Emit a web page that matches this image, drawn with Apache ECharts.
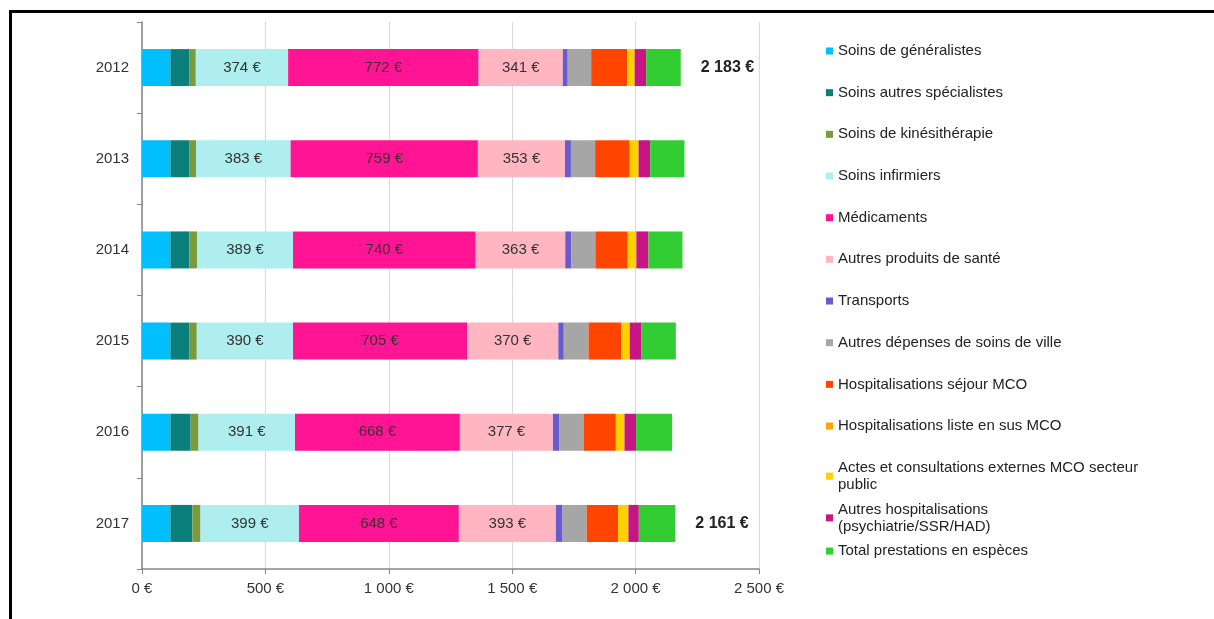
<!DOCTYPE html>
<html>
<head>
<meta charset="utf-8">
<script src="https://cdn.jsdelivr.net/npm/echarts@6/dist/echarts.min.js"></script>
<style>
  html, body { margin: 0; padding: 0; background: #fff; }
  #main { width: 1214px; height: 619px; }
  .cadre { position: absolute; left: 9px; top: 10px; right: 0; bottom: 0;
           border-left: 3px solid #000; border-top: 3px solid #000; pointer-events: none; }
</style>
</head>
<body>
<div id="main"></div>
<div class="cadre"></div>
<script>
// années (de haut en bas)
var annees = ['2012', '2013', '2014', '2015', '2016', '2017'];

// postes de dépense (ordre d'empilement)
var postes = [
  'Soins de généralistes',
  'Soins autres spécialistes',
  'Soins de kinésithérapie',
  'Soins infirmiers',
  'Médicaments',
  'Autres produits de santé',
  'Transports',
  'Autres dépenses de soins de ville',
  'Hospitalisations séjour MCO',
  'Hospitalisations liste en sus MCO',
  'Actes et consultations externes MCO secteur public',
  'Autres hospitalisations (psychiatrie/SSR/HAD)',
  'Total prestations en espèces'
];
var libellesLegende = [
  'Soins de généralistes',
  'Soins autres spécialistes',
  'Soins de kinésithérapie',
  'Soins infirmiers',
  'Médicaments',
  'Autres produits de santé',
  'Transports',
  'Autres dépenses de soins de ville',
  'Hospitalisations séjour MCO',
  'Hospitalisations liste en sus MCO',
  'Actes et consultations externes MCO secteur\npublic',
  'Autres hospitalisations\n(psychiatrie/SSR/HAD)',
  'Total prestations en espèces'
];
var couleurs = ['#00BFFF', '#0B7F7C', '#7A9A3E', '#AFEEEE', '#FF1493', '#FFB6C1',
  '#6A5ACD', '#A6A6A6', '#FF4500', '#FFA500', '#FFD000', '#C71585', '#32CD32'];

// montants en euros par poste, 2012 -> 2017
var generalistes   = [115, 115, 115, 115, 115, 115];
var specialistes   = [76, 76, 77, 76, 82, 89];
var kine           = [27, 28, 31, 31, 32, 33];
var infirmiers     = [374, 383, 389, 390, 391, 399];
var medicaments    = [772, 759, 740, 705, 668, 648];
var autresProduits = [341, 353, 363, 370, 377, 393];
var transports     = [20, 24, 24, 22, 25, 27];
var autresVille    = [95, 98, 98, 100, 99, 98];
var sejourMCO      = [146, 140, 131, 132, 131, 127];
var listeEnSus     = [0, 0, 0, 0, 0, 0];
var actesExternes  = [30, 36, 35, 35, 35, 42];
var autresHosp     = [47, 47, 49, 48, 47, 42];
var prestations    = [140, 139, 138, 139, 146, 148];

// totaux affichés seulement pour 2012 et 2017
var totauxAffiches = [2183, null, null, null, null, 2161];

var valeurs = [generalistes, specialistes, kine, infirmiers, medicaments, autresProduits,
  transports, autresVille, sejourMCO, listeEnSus, actesExternes, autresHosp, prestations];
var avecEtiquette = [3, 4, 5];

function euros(v) {
  return String(v).replace(/\B(?=(\d{3})+(?!\d))/g, ' ') + ' €';
}

var police = 'Liberation Sans, Arial, sans-serif';

var series = postes.map(function (nom, i) {
  var s = {
    name: nom,
    type: 'bar',
    stack: 'total',
    barWidth: 37,
    itemStyle: { color: couleurs[i] },
    data: valeurs[i],
    label: { show: false }
  };
  if (avecEtiquette.indexOf(i) >= 0) {
    s.label = {
      show: true, position: 'inside', color: '#333', fontSize: 15, fontFamily: police,
      formatter: function (p) { return euros(p.value); }
    };
  }
  if (i === postes.length - 1) {
    s.label = {
      show: true, position: 'right', distance: 20, color: '#222', fontSize: 16,
      fontWeight: 'bold', fontFamily: police,
      formatter: function (p) {
        var t = totauxAffiches[p.dataIndex];
        return t == null ? '' : euros(t);
      }
    };
  }
  return s;
});

var legendes = postes.map(function (nom, i) {
  return {
    orient: 'vertical',
    left: 821,
    top: 37.5 + i * 41.67,
    data: [nom],
    icon: 'rect',
    itemWidth: 7,
    itemHeight: 7,
    selectedMode: false,
    formatter: function () { return libellesLegende[i]; },
    textStyle: { fontSize: 15, color: '#222', fontFamily: police, lineHeight: 17 }
  };
});

var chart = echarts.init(document.getElementById('main'));
chart.setOption({
  animation: false,
  backgroundColor: 'transparent',
  legend: legendes,
  grid: { left: 142, right: 455, top: 22, bottom: 50, containLabel: false },
  xAxis: {
    type: 'value',
    min: 0,
    max: 2500,
    interval: 500,
    axisLine: { show: true, lineStyle: { color: '#868686', width: 1.5 } },
    axisTick: { show: true, length: 5, lineStyle: { color: '#868686' } },
    splitLine: { show: true, lineStyle: { color: '#D9D9D9', width: 1 } },
    axisLabel: { color: '#333', fontSize: 15, fontFamily: police, margin: 12,
      formatter: function (v) { return euros(v); } }
  },
  yAxis: {
    type: 'category',
    inverse: true,
    data: annees,
    axisLine: { show: true, lineStyle: { color: '#868686', width: 1.5 } },
    axisTick: { show: true, length: 5, lineStyle: { color: '#868686' } },
    axisLabel: { color: '#333', fontSize: 15, fontFamily: police, margin: 13 }
  },
  series: series
});
</script>
</body>
</html>
